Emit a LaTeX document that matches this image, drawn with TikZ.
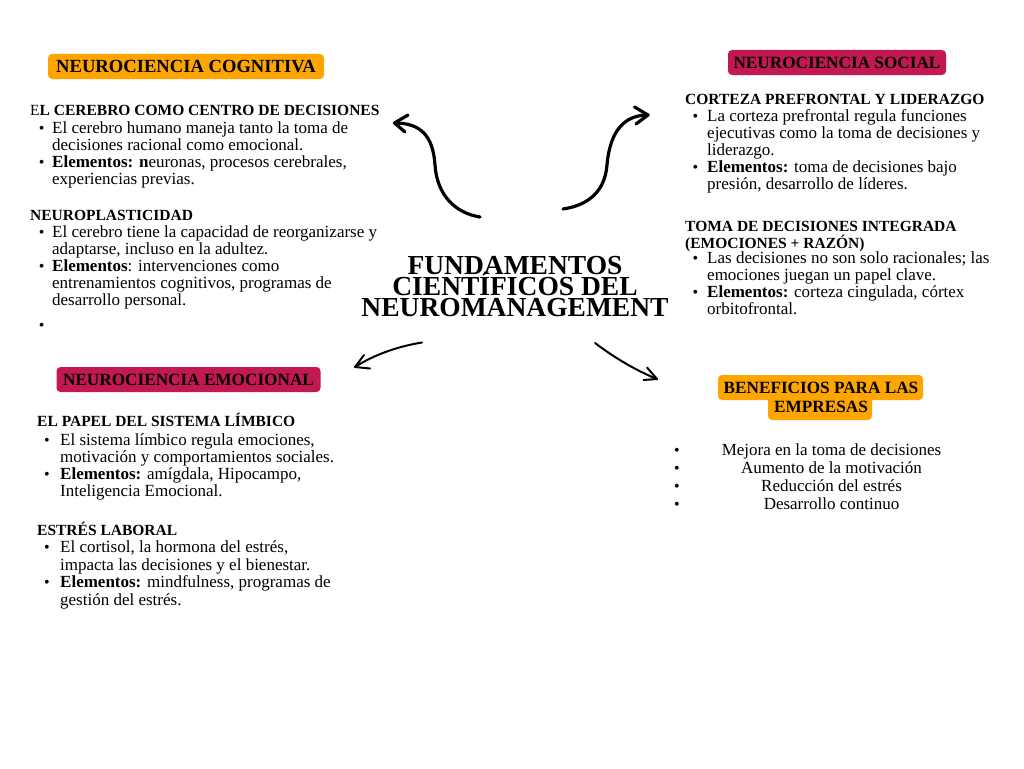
\documentclass[tikz,border=0pt]{standalone}
\usepackage{fontspec}
\setmainfont{Liberation Serif}
\definecolor{orangetag}{RGB}{255,165,0}
\definecolor{crimsontag}{RGB}{194,26,80}
\newcommand\bodyf{\fontsize{17}{17}\selectfont}
\newcommand\headf{\fontsize{15.5}{17}\selectfont\bfseries}
\newcommand\tagf{\fontsize{17.2}{18}\selectfont\bfseries}
\newcommand\tagbigf{\fontsize{18.6}{18}\selectfont\bfseries}
\newcommand\titlef{\fontsize{27.5}{20}\selectfont\bfseries}
\newcommand\bulf{\fontsize{16}{16}\selectfont}
\newcommand\tln[4]{\node[txt] (#1) at (#2,#3) {#4};}
\newcommand\thd[4]{\node[hd] (#1) at (#2,#3) {#4};}
\newcommand\tbul[3]{\node[bul] (#1) at (#2,#3) {•};}
\begin{document}
\begin{tikzpicture}[x=1pt,y=-1pt,
  txt/.style={anchor=base west,inner sep=0pt,font=\bodyf},
  hd/.style={anchor=base west,inner sep=0pt,font=\headf},
  bul/.style={anchor=base,inner sep=0pt,font=\bulf},
  ctr/.style={anchor=base,inner sep=0pt,font=\bodyf},
  ttl/.style={anchor=base,inner sep=0pt,font=\titlef,text height=18.5pt,text depth=0pt},
  tagbox/.style={rounded corners=4pt,inner sep=0pt,text height=12pt,text depth=0pt,font=\tagf},
  arr/.style={line width=3.2pt,line cap=round,line join=round},
  arrthin/.style={line width=2pt,line cap=round,line join=round}]
\useasboundingbox[fill=white] (0,0) rectangle (1024,768);

% tags
\node[tagbox,fill=orangetag,minimum width=276pt,minimum height=25pt,font=\tagbigf] (tagcog) at (186,66.5) {NEUROCIENCIA COGNITIVA};
\node[tagbox,fill=crimsontag,minimum width=218pt,minimum height=25pt] (tagsoc) at (837,62.5) {NEUROCIENCIA SOCIAL};
\node[tagbox,fill=crimsontag,minimum width=264pt,minimum height=25pt] (tagemo) at (188.5,379.5) {NEUROCIENCIA EMOCIONAL};
\fill[orangetag,rounded corners=4pt] (718,375) rectangle (923,400);
\fill[orangetag,rounded corners=4pt] (768,396) rectangle (872,420);
\node[anchor=base,inner sep=0pt,font=\tagf] (tagben1) at (821,393) {BENEFICIOS PARA LAS};
\node[anchor=base,inner sep=0pt,font=\tagf] (tagben2) at (821,412) {EMPRESAS};

% title
\node[ttl] (t1) at (515,274) {FUNDAMENTOS};
\node[ttl] (t2) at (515,295.5) {CIENTÍFICOS DEL};
\node[ttl] (t3) at (515,316.5) {NEUROMANAGEMENT};

% cognitiva
\thd{c0}{30}{115}{{\mdseries E}L CEREBRO COMO CENTRO DE DECISIONES}
\tbul{cb1}{41.7}{133}
\tln{c1}{52}{133}{El cerebro humano maneja tanto la toma de}
\tln{c2}{52}{150}{decisiones racional como emocional.}
\tbul{cb2}{41.7}{167}
\tln{c3}{52}{167}{\textbf{Elementos: n}euronas, procesos cerebrales,}
\tln{c4}{52}{184}{experiencias previas.}
\thd{c5}{30}{220}{NEUROPLASTICIDAD}
\tbul{cb3}{41.7}{237}
\tln{c6}{52}{237}{El cerebro tiene la capacidad de reorganizarse y}
\tln{c7}{52}{254}{adaptarse, incluso en la adultez.}
\tbul{cb4}{41.7}{271}
\tln{c8}{52}{271}{\textbf{Elementos}: intervenciones como}
\tln{c9}{52}{288}{entrenamientos cognitivos, programas de}
\tln{c10}{52}{305}{desarrollo personal.}
\tbul{cb5}{41.7}{330}

% social
\thd{s0}{685}{104}{CORTEZA PREFRONTAL Y LIDERAZGO}
\tbul{sb1}{695.5}{121.7}
\tln{s1}{707}{121.7}{La corteza prefrontal regula funciones}
\tln{s2}{707}{138.7}{ejecutivas como la toma de decisiones y}
\tln{s3}{707}{155.7}{liderazgo.}
\tbul{sb2}{695.5}{172.7}
\tln{s4}{707}{172.7}{\textbf{Elementos:} toma de decisiones bajo}
\tln{s5}{707}{189.7}{presión, desarrollo de líderes.}
\thd{s6}{685}{231.7}{TOMA DE DECISIONES INTEGRADA}
\thd{s7}{685}{248.5}{(EMOCIONES + RAZÓN)}
\tbul{sb3}{695.5}{263.7}
\tln{s8}{707}{263.7}{Las decisiones no son solo racionales; las}
\tln{s9}{707}{280.7}{emociones juegan un papel clave.}
\tbul{sb4}{695.5}{297.7}
\tln{s10}{707}{297.7}{\textbf{Elementos:} corteza cingulada, córtex}
\tln{s11}{707}{314.7}{orbitofrontal.}

% emocional
\thd{e0}{37}{426.7}{EL PAPEL DEL SISTEMA LÍMBICO}
\tbul{eb1}{47}{445}
\tln{e1}{60}{445}{El sistema límbico regula emociones,}
\tln{e2}{60}{462}{motivación y comportamientos sociales.}
\tbul{eb2}{47}{479}
\tln{e3}{60}{479}{\textbf{Elementos:} amígdala, Hipocampo,}
\tln{e4}{60}{496.5}{Inteligencia Emocional.}
\thd{e5}{37}{535}{ESTRÉS LABORAL}
\tbul{eb3}{47}{552.7}
\tln{e6}{60}{552.7}{El cortisol, la hormona del estrés,}
\tln{e7}{60}{570}{impacta las decisiones y el bienestar.}
\tbul{eb4}{47}{587.7}
\tln{e8}{60}{587.7}{\textbf{Elementos:} mindfulness, programas de}
\tln{e9}{60}{605}{gestión del estrés.}

% beneficios
\tbul{bb1}{677}{455}
\node[ctr] (b1) at (831.5,455) {Mejora en la toma de decisiones};
\tbul{bb2}{677}{473}
\node[ctr] (b2) at (831.5,473) {Aumento de la motivación};
\tbul{bb3}{677}{491}
\node[ctr] (b3) at (831.5,491) {Reducción del estrés};
\tbul{bb4}{677}{509}
\node[ctr] (b4) at (831.5,509) {Desarrollo continuo};

% arrows
\coordinate (tlS) at (480,217);
\coordinate (tlM) at (435,165);
\coordinate (tlT) at (394.5,123);
\coordinate (tlA) at (408,115);
\coordinate (tlB) at (405,132);
\draw[arr] (tlS) .. controls (455,213) and (437,195) .. (tlM) .. controls (433,135) and (420,123) .. (tlT);
\draw[arr] (tlA) -- (tlT) -- (tlB);

\coordinate (trS) at (563,209);
\coordinate (trM) at (607,165);
\coordinate (trT) at (648,115);
\coordinate (trA) at (634.5,107);
\coordinate (trB) at (636,124);
\draw[arr] (trS) .. controls (590,205) and (605,190) .. (trM) .. controls (610,130) and (625,115) .. (trT);
\draw[arr] (trA) -- (trT) -- (trB);

\coordinate (blS) at (422,342.5);
\coordinate (blT) at (355,367);
\coordinate (blA) at (364,355);
\coordinate (blB) at (370,368.5);
\draw[arrthin] (blS) .. controls (400,346) and (375,354) .. (blT);
\draw[arrthin] (blA) -- (blT) -- (blB);

\coordinate (brS) at (595,343);
\coordinate (brT) at (657,379);
\coordinate (brA) at (647,367.5);
\coordinate (brB) at (643.5,380);
\draw[arrthin] (brS) .. controls (615,358) and (635,370) .. (brT);
\draw[arrthin] (brA) -- (brT) -- (brB);
\end{tikzpicture}
\end{document}
